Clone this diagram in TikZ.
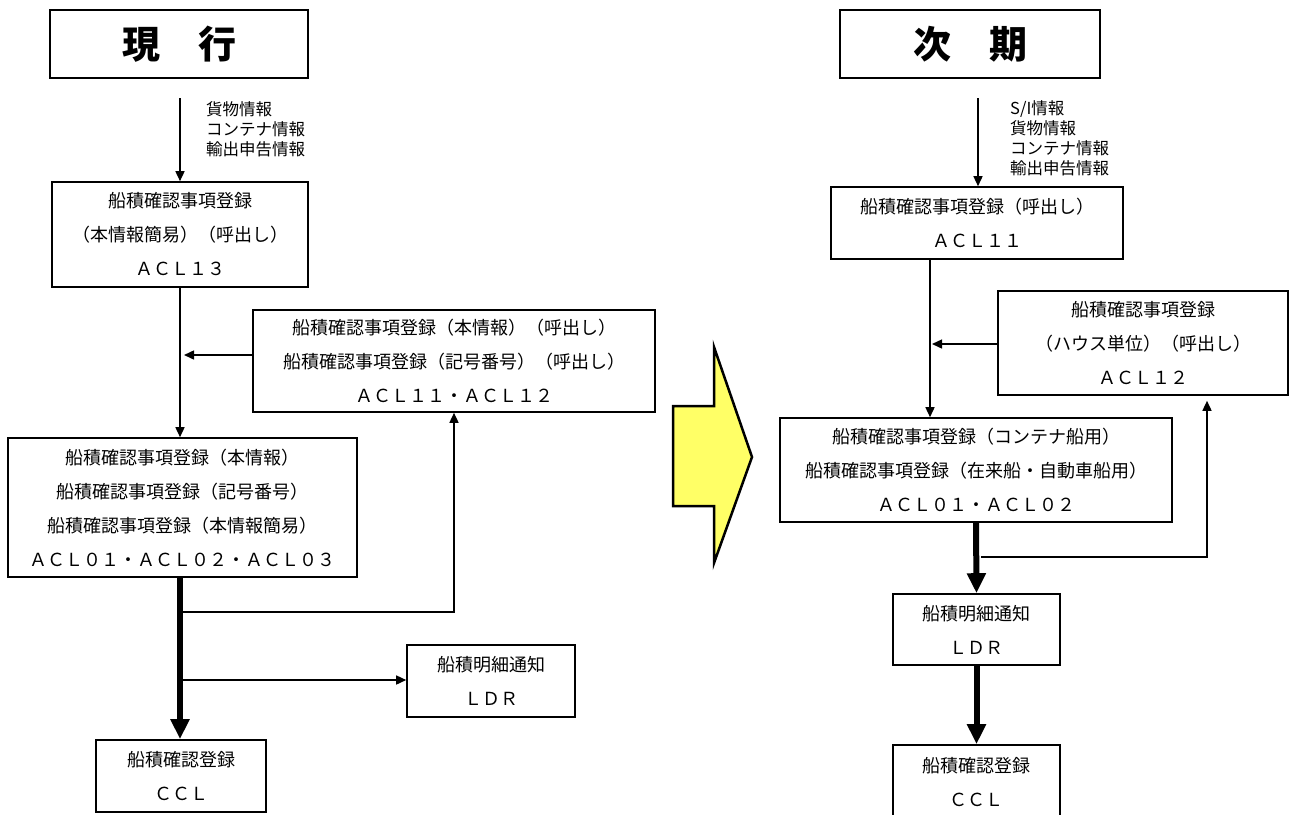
\documentclass[tikz,border=0pt]{standalone}
\usepackage{fontspec}
\newfontfamily\jp{Noto Sans CJK JP}
\usepackage{tikz}
\usepackage{xcolor}
\usetikzlibrary{positioning}
\usetikzlibrary{arrows.meta}
\definecolor{arrowyellow}{HTML}{FFFF66}
\tikzstyle{titlebox} = [rectangle, draw=black, line width=1.6pt, minimum width=258pt, minimum height=68pt, inner sep=0pt, font=\jp\bfseries\fontsize{38}{40}\selectfont]
\tikzstyle{process} = [rectangle, draw=black, line width=1.6pt, inner sep=0pt, align=center, font=\jp\fontsize{18}{34}\selectfont]
\tikzstyle{infotext} = [align=left, inner sep=0pt, font=\jp\fontsize{16.5}{20}\selectfont]
\tikzstyle{arrow} = [line width=1.5pt, -{Triangle[length=10pt,width=9pt]}]
\tikzstyle{thickarrow} = [line width=6pt, -{Triangle[length=20pt,width=18pt]}]

\begin{document}
\begin{tikzpicture}[x=1pt, y=-1pt]
        \useasboundingbox (0,0) rectangle (1297,814);
        \fill [white] (0,0) rectangle (1297,814);

        \node (nowtitle) [titlebox] at (179,44) {現　行};
        \node (acl13) [process, minimum width=256pt, minimum height=105pt] at (180,234.5) {船積確認事項登録\\（本情報簡易）（呼出し）\\ＡＣＬ１３};
        \node (acl1112) [process, minimum width=402pt, minimum height=102pt] at (454,361) {船積確認事項登録（本情報）（呼出し）\\船積確認事項登録（記号番号）（呼出し）\\ＡＣＬ１１・ＡＣＬ１２};
        \node (acl010203) [process, minimum width=349pt, minimum height=139pt] at (182.5,507.5) {船積確認事項登録（本情報）\\船積確認事項登録（記号番号）\\船積確認事項登録（本情報簡易）\\ＡＣＬ０１・ＡＣＬ０２・ＡＣＬ０３};
        \node (ldrnow) [process, minimum width=168pt, minimum height=72pt] at (491,681) {船積明細通知\\ＬＤＲ};
        \node (cclnow) [process, minimum width=170pt, minimum height=72pt] at (181,776) {船積確認登録\\ＣＣＬ};
        \node (nowinfo) [infotext, anchor=north west] at (206,101) {貨物情報\\コンテナ情報\\輸出申告情報};
        \coordinate (nowin) at (180,98);
        \coordinate (nowjoin) at (180,355);
        \coordinate (nowbranch) at (183,612);
        \coordinate (nowldr) at (183,680);

        \node (nexttitle) [titlebox, minimum width=260pt] at (970,44) {次　期};
        \node (acl11) [process, minimum width=292pt, minimum height=72pt] at (977,223) {船積確認事項登録（呼出し）\\ＡＣＬ１１};
        \node (acl12) [process, minimum width=290pt, minimum height=104pt] at (1143,343) {船積確認事項登録\\（ハウス単位）（呼出し）\\ＡＣＬ１２};
        \node (acl0102) [process, minimum width=392pt, minimum height=104pt] at (976,470) {船積確認事項登録（コンテナ船用）\\船積確認事項登録（在来船・自動車船用）\\ＡＣＬ０１・ＡＣＬ０２};
        \node (ldrnext) [process, minimum width=167pt, minimum height=71pt] at (976.5,629.5) {船積明細通知\\ＬＤＲ};
        \node (cclnext) [process, minimum width=167pt, minimum height=75pt] at (976.5,782.5) {船積確認登録\\ＣＣＬ};
        \node (nextinfo) [infotext, anchor=north west] at (1010,100) {S/I情報\\貨物情報\\コンテナ情報\\輸出申告情報};
        \coordinate (nextin) at (978,98);
        \coordinate (nextjoin) at (930,344);
        \coordinate (nextbranch) at (981,557);

        \draw [fill=arrowyellow, line width=2.5pt, line join=miter] (673,406) -- (714,406) -- (714,347) -- (752,457) -- (714,563) -- (714,506) -- (673,506) -- cycle;

        \draw [arrow] (nowin) -- (nowin |- acl13.north);
        \draw [arrow] (acl13.south) -- (acl13.south |- acl010203.north);
        \draw [arrow] (nowjoin -| acl1112.west) -- ([xshift=4pt]nowjoin);
        \draw [thickarrow] (acl13.south |- acl010203.south) -- (acl13.south |- cclnow.north);
        \draw [arrow] (nowbranch) -| (acl1112.south);
        \draw [arrow] (nowldr) -- (nowldr -| ldrnow.west);

        \draw [arrow] (nextin) -- (nextin |- acl11.north);
        \draw [arrow] (nextjoin |- acl11.south) -- (nextjoin |- acl0102.north);
        \draw [arrow] (nextjoin -| acl12.west) -- ([xshift=2pt]nextjoin);
        \draw [thickarrow] (acl0102.south) -- (ldrnext.north);
        \draw [arrow] (nextbranch) -| ([xshift=64pt, yshift=-5pt]acl12.south);
        \draw [thickarrow] (ldrnext.south) -- (cclnext.north);
    \end{tikzpicture}
\end{document}
